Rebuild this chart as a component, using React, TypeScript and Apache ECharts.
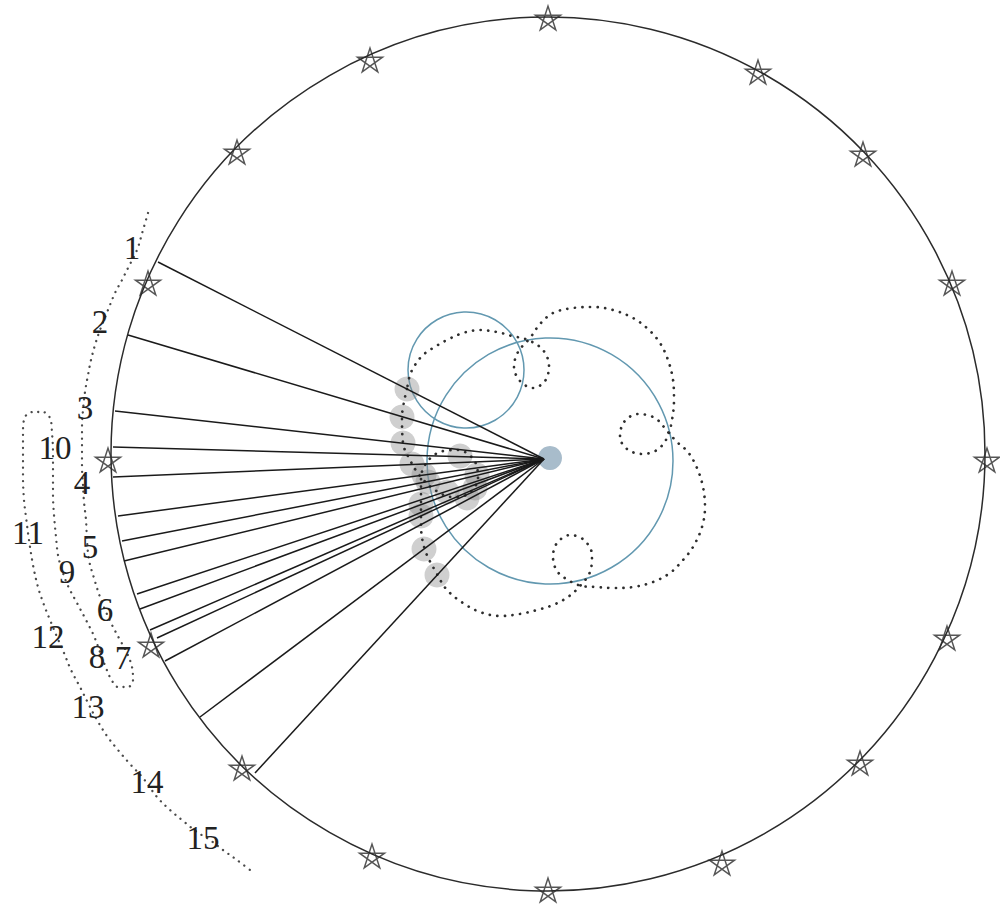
import React, { useEffect, useRef } from "react";
import * as echarts from "echarts";

// All coordinates are in the reference picture's units (x right, y down).
const sphereCircle = [548, 454, 437];
const deferentCircle = [550, 461, 123];
const epicycleCircle = [466, 370, 58];
const earthDot = [550, 458, 12];
const sightOrigin = [544, 459];
const planetRadius = 12.5;

const starPoints = [
  [548, 18], [370, 60], [237, 152], [148, 283], [108, 460], [151, 645], [242, 768], [372, 856],
  [548, 890], [722, 863], [860, 763], [947, 638], [987, 460], [952, 283], [863, 154], [758, 72],
];

const sightEnds = [
  [158, 262], [128, 335], [115, 411], [113, 447], [113, 477], [118, 516], [122, 541], [124, 561],
  [137, 594], [140, 609], [150, 630], [157, 638], [165, 661], [200, 717], [255, 773],
];

const planetPositions = [
  [407, 389], [402, 417], [403, 443], [412, 464], [428, 482], [447, 492], [467, 498], [475, 488],
  [477, 475], [460, 456], [424, 475], [421, 504], [421, 516], [424, 549], [437, 575],
];

const orbitPath = [
  [407, 389], [402, 417], [403, 443], [410, 460], [420, 476], [435, 490], [452, 497], [468, 494],
  [478, 478], [474, 460], [458, 450], [440, 452], [427, 462], [421, 478], [421, 500], [421, 525],
  [425, 550], [437, 574], [447, 590], [463, 603], [480, 612], [500, 616], [520, 614], [537, 610],
  [553, 605], [568, 597], [580, 586], [590, 572], [592, 555], [584, 540], [570, 535], [557, 543],
  [553, 557], [557, 571], [568, 580], [582, 586], [597, 587], [613, 588], [633, 587], [653, 582],
  [670, 573], [683, 560], [693, 547], [702, 527], [705, 507], [703, 487], [697, 468], [688, 452],
  [677, 442], [668, 432], [655, 418], [638, 414], [624, 422], [620, 437], [627, 449], [642, 454],
  [657, 450], [667, 438], [672, 420], [674, 400], [673, 380], [668, 360], [660, 343], [648, 329],
  [633, 318], [613, 310], [593, 307], [573, 308], [553, 313], [540, 324], [530, 338], [518, 352],
  [514, 367], [520, 381], [533, 388], [545, 381], [549, 366], [543, 350], [528, 340], [512, 336],
  [497, 332], [480, 330], [463, 333], [447, 340], [433, 348], [423, 355], [415, 365], [410, 375],
  [407, 389],
];

const apparentPath = [
  [148, 213], [143, 230], [137, 250], [128, 268], [122, 280], [115, 293], [108, 310], [100, 330],
  [95, 345], [91, 360], [88, 375], [85, 392], [83, 410], [82, 428], [82, 447], [82, 467],
  [83, 485], [84, 502], [86, 520], [87, 540], [89, 560], [94, 578], [100, 597], [106, 612],
  [112, 625], [120, 640], [127, 653], [132, 667], [133, 680], [128, 687], [118, 687], [111, 679],
  [106, 668], [100, 652], [94, 636], [86, 620], [77, 603], [68, 586], [62, 570], [58, 555],
  [56, 537], [54, 515], [53, 495], [53, 473], [53, 453], [52, 433], [50, 418], [43, 412],
  [33, 412], [25, 417], [23, 433], [23, 453], [23, 477], [24, 500], [26, 517], [29, 540],
  [33, 565], [38, 587], [44, 605], [50, 620], [57, 637], [64, 653], [71, 670], [80, 687],
  [89, 705], [97, 720], [107, 736], [118, 750], [130, 764], [143, 778], [157, 797], [170, 810],
  [182, 820], [197, 832], [210, 840], [223, 850], [237, 860], [250, 870],
];

const labelNames = ["1", "2", "3", "10", "4", "11", "5", "9", "6", "12", "8", "7", "13", "14", "15"];
const labelPoints = [
  [132, 248], [100, 322], [85, 408], [55, 448], [82, 483], [28, 533], [90, 547], [67, 572],
  [105, 610], [48, 637], [97, 657], [123, 658], [88, 707], [147, 782], [203, 838],
];

const STAR =
  "path://M0,-10L5.878,8.09L-9.511,-3.09L9.511,-3.09L-5.878,8.09Z";

function circleSeries(rows: number[][], style: any, z: number) {
  return {
    type: "custom",
    coordinateSystem: "cartesian2d",
    data: rows,
    encode: { x: 0, y: 1 },
    z,
    silent: true,
    renderItem: (_p: any, api: any) => {
      const c = api.coord([api.value(0), api.value(1)]);
      const r = api.size([api.value(2), 0])[0];
      return { type: "circle", shape: { cx: c[0], cy: c[1], r }, style };
    },
  };
}

export default function App() {
  const ref = useRef<HTMLDivElement>(null);
  useEffect(() => {
    document.body.style.margin = "0";
    const chart = echarts.init(ref.current!, null, { renderer: "svg" });
    const option: any = {
      animation: false,
      backgroundColor: "#ffffff",
      grid: { left: 0, right: 0, top: 0, bottom: 0 },
      xAxis: { type: "value", min: 0, max: 1000, show: false },
      yAxis: { type: "value", min: 0, max: 907, inverse: true, show: false },
      series: [
        circleSeries([sphereCircle], { fill: "none", stroke: "#2b2b2b", lineWidth: 1.5 }, 1),
        circleSeries([deferentCircle, epicycleCircle], { fill: "none", stroke: "#6298b0", lineWidth: 1.5 }, 2),
        circleSeries(planetPositions.map((p) => [p[0], p[1], planetRadius]), { fill: "rgba(140,140,140,0.42)" }, 3),
        circleSeries([earthDot], { fill: "#a8bccb" }, 3),
        {
          type: "line",
          data: orbitPath,
          smooth: 0.35,
          symbol: "none",
          silent: true,
          z: 4,
          lineStyle: { color: "#2e2e2e", width: 2.7, type: [0.1, 7.5], cap: "round" },
        },
        {
          type: "line",
          data: apparentPath,
          smooth: 0.35,
          symbol: "none",
          silent: true,
          z: 4,
          lineStyle: { color: "#4a4a4a", width: 2.3, type: [0.1, 6.5], cap: "round" },
        },
        {
          type: "lines",
          coordinateSystem: "cartesian2d",
          silent: true,
          z: 5,
          lineStyle: { color: "#1a1a1a", width: 1.5, opacity: 1 },
          data: sightEnds.map((e) => ({ coords: [sightOrigin, e] })),
        },
        {
          type: "scatter",
          data: starPoints,
          symbol: STAR,
          symbolSize: 25,
          symbolKeepAspect: true,
          silent: true,
          z: 6,
          itemStyle: { color: "rgba(255,255,255,0)", borderColor: "#2b2b2b", borderWidth: 1.5 },
        },
        {
          type: "custom",
          coordinateSystem: "cartesian2d",
          data: labelPoints.map((p, i) => [p[0], p[1], i]),
          encode: { x: 0, y: 1 },
          z: 7,
          silent: true,
          renderItem: (_p: any, api: any) => {
            const c = api.coord([api.value(0), api.value(1)]);
            return {
              type: "text",
              x: c[0],
              y: c[1],
              style: {
                text: labelNames[api.value(2)],
                fontSize: 33,
                fontFamily: "Liberation Serif",
                fill: "#222",
                align: "center",
                verticalAlign: "middle",
              },
            };
          },
        },
      ],
    };
    chart.setOption(option);
    return () => chart.dispose();
  }, []);
  return <div ref={ref} style={{ width: 1000, height: 907 }} />;
}
